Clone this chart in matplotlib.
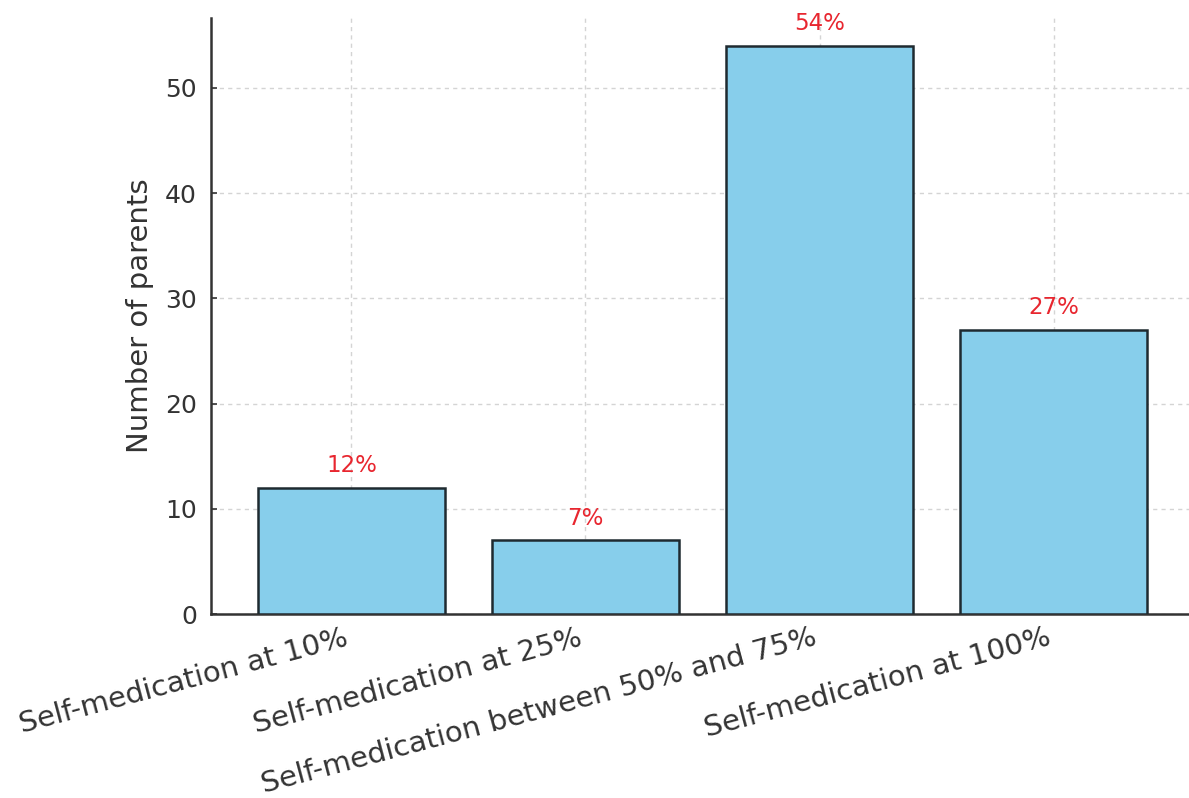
import matplotlib
matplotlib.use("Agg")
import matplotlib.pyplot as plt

categories = [
    "Self-medication at 10%",
    "Self-medication at 25%",
    "Self-medication between 50% and 75%",
    "Self-medication at 100%",
]
parents = [12, 7, 54, 27]
y_ticks = [0, 10, 20, 30, 40, 50]

plt.rcParams["font.family"] = ["DejaVu Sans"]

fig = plt.figure(figsize=(11.89, 7.98), dpi=100)
ax = fig.add_axes([211 / 1189, 184 / 798, (1194 - 211) / 1189, (614 - 17.5) / 798])

x = range(len(categories))
bars = ax.bar(x, parents, width=0.8, color="#87CEEB", edgecolor="#1f2a30", linewidth=1.8, zorder=3)

for rect, val in zip(bars, parents):
    ax.text(rect.get_x() + rect.get_width() / 2, val + 1.0, f"{val}%",
            ha="center", va="bottom", color="#e8262f", fontsize=16.5, zorder=4)

ax.set_xlim(-0.6, 3.6)
ax.set_ylim(0, max(parents) * 1.05)
ax.set_yticks(y_ticks)
ax.set_xticks(list(x))
ax.set_xticklabels(categories, rotation=15, ha="right", fontsize=21)

ax.set_ylabel("Number of parents", fontsize=21, color="#333333", labelpad=8)
ax.tick_params(axis="both", direction="in", length=4, width=1.2, colors="#333333",
               labelcolor="#333333")
ax.tick_params(axis="y", pad=10, labelsize=18)
ax.tick_params(axis="x", pad=7)

ax.grid(True, linestyle=(0, (3, 3)), color="#d4d4d4", linewidth=1.0, zorder=0)
for side in ("top", "right"):
    ax.spines[side].set_visible(False)
for side in ("left", "bottom"):
    ax.spines[side].set_color("#333333")
    ax.spines[side].set_linewidth(1.8)

fig.savefig("out.png", dpi=100)
